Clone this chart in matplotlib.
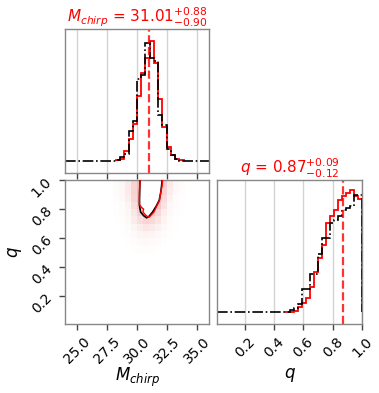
import numpy as np
import matplotlib
matplotlib.use("Agg")
import matplotlib.pyplot as plt
from matplotlib.colors import LinearSegmentedColormap

# --- 1D histogram of chirp mass (34 bins over 24..36) ---
mc_range = (24.0, 36.0)
mc_black = [0, 0, 0, 0, 0, 0, 0, 0, 0, 0, 0, 0,
            0.01, 0.03, 0.06, 0.25, 0.33, 0.68, 0.72, 0.98, 0.86, 0.83,
            0.38, 0.30, 0.10, 0.05, 0.02, 0.0,
            0, 0, 0, 0, 0, 0]
# red one only covers its own samples (bins 12..28 of the same grid)
mc_red_range = (28.235, 33.882)
mc_red = [0.01, 0.02, 0.08, 0.18, 0.31, 0.54, 0.73, 0.86, 1.0, 0.82,
          0.52, 0.28, 0.12, 0.05, 0.02, 0.01]
mc_median, mc_up, mc_lo = 31.01, 0.88, 0.90

# --- 1D histogram of mass ratio (36 bins over 0.01..1.0) ---
q_range = (0.01, 1.0)
q_black = [0] * 18 + [0.02, 0.03, 0.07, 0.19, 0.19, 0.32, 0.32, 0.48, 0.62,
                      0.62, 0.74, 0.77, 0.80, 0.85, 0.87, 0.88, 0.975, 0.975]
q_red_range = (0.4775, 1.0)
q_red = [0.0, 0.0, 0.01, 0.04, 0.075, 0.12, 0.21, 0.33, 0.45, 0.56,
         0.74, 0.80, 0.85, 0.93, 0.97, 0.99, 1.02, 0.97, 0.94]
q_median, q_up, q_lo = 0.87, 0.09, 0.12

# --- 2D density (cells 0.5 x 0.05) ---
dens_mc_edges = [28.0, 28.5, 29.0, 29.5, 30.0, 30.5, 31.0, 31.5, 32.0, 32.5, 33.0, 33.5, 34.0]
dens_q_edges = [0.5, 0.55, 0.6, 0.65, 0.7, 0.75, 0.8, 0.85, 0.9, 0.95, 1.0]
dens = [
    [0.0, 0.0, 0.0, 0.02, 0.03, 0.03, 0.03, 0.02, 0.0, 0.0, 0.0, 0.0],
    [0.0, 0.0, 0.02, 0.04, 0.06, 0.07, 0.06, 0.04, 0.02, 0.0, 0.0, 0.0],
    [0.0, 0.01, 0.03, 0.07, 0.12, 0.15, 0.12, 0.08, 0.04, 0.01, 0.0, 0.0],
    [0.0, 0.02, 0.05, 0.12, 0.22, 0.32, 0.27, 0.17, 0.08, 0.03, 0.01, 0.0],
    [0.01, 0.03, 0.07, 0.22, 0.42, 0.52, 0.47, 0.32, 0.14, 0.05, 0.02, 0.0],
    [0.02, 0.04, 0.10, 0.30, 0.60, 0.80, 0.70, 0.50, 0.20, 0.07, 0.03, 0.01],
    [0.02, 0.05, 0.15, 0.40, 0.75, 0.95, 0.90, 0.70, 0.35, 0.10, 0.04, 0.02],
    [0.03, 0.08, 0.20, 0.50, 0.85, 1.0, 1.0, 0.85, 0.45, 0.15, 0.05, 0.02],
    [0.05, 0.10, 0.25, 0.55, 0.90, 1.0, 1.0, 0.90, 0.55, 0.20, 0.08, 0.03],
    [0.05, 0.10, 0.25, 0.55, 0.90, 1.0, 1.0, 0.90, 0.60, 0.25, 0.10, 0.05],
]

# lowest credible contour (open at q = 1)
red_contour_mc = [30.25, 30.22, 30.19, 30.22, 30.39, 30.55, 30.50, 30.70, 30.85,
                  31.03, 31.25, 31.42, 31.64, 31.86, 31.97, 32.08, 32.14]
red_contour_q = [1.0, 0.935, 0.87, 0.83, 0.81, 0.80, 0.78, 0.76, 0.75,
                 0.745, 0.765, 0.78, 0.82, 0.855, 0.91, 0.957, 1.0]
black_contour_mc = [30.25, 30.22, 30.20, 30.30, 30.55, 30.80, 31.00, 31.30,
                    31.60, 31.85, 31.97, 32.05, 32.10]
black_contour_q = [1.0, 0.92, 0.83, 0.78, 0.755, 0.74, 0.75, 0.78, 0.82,
                   0.86, 0.91, 0.96, 1.0]

mc_ticks = [25.0, 27.5, 30.0, 32.5, 35.0]
q_ticks = [0.2, 0.4, 0.6, 0.8, 1.0]

SPINE = "#888888"
GRID = "#d3d3d3"


def style(ax):
    for s in ax.spines.values():
        s.set_color(SPINE)
        s.set_linewidth(1.0)
    ax.tick_params(direction="out", length=4, width=1, color="#444444", labelsize=10)


W, H = 379, 393
fig = plt.figure(figsize=(W / 100, H / 100), dpi=100)
ax_mc = fig.add_axes([65 / W, 1 - 173 / H, 144 / W, 144 / H])
ax_2d = fig.add_axes([65 / W, 1 - 324 / H, 144 / W, 144 / H])
ax_q = fig.add_axes([217 / W, 1 - 324 / H, 145 / W, 144 / H])

# chirp mass histogram
mc_edges = np.linspace(*mc_range, len(mc_black) + 1)
mc_red_edges = np.linspace(*mc_red_range, len(mc_red) + 1)
ax_mc.stairs(mc_red, mc_red_edges, color="red", lw=1.3)
ax_mc.stairs(mc_black, mc_edges, color="black", lw=1.2, ls="-.")
ax_mc.axvline(mc_median, color="red", ls="--", lw=1.6, alpha=0.8)
ax_mc.set_xlim(*mc_range)
ax_mc.set_ylim(-0.1, 1.1)
ax_mc.set_xticks(mc_ticks)
ax_mc.set_xticklabels([])
ax_mc.set_yticks([])
ax_mc.grid(axis="x", color=GRID, lw=1)
ax_mc.set_axisbelow(True)
ax_mc.set_title(r"$M_{chirp}$ = $%.2f^{+%.2f}_{-%.2f}$" % (mc_median, mc_up, mc_lo),
                color="red", fontsize=11, pad=4)
style(ax_mc)

# mass ratio histogram
q_edges = np.linspace(*q_range, len(q_black) + 1)
q_red_edges = np.linspace(*q_red_range, len(q_red) + 1)
ax_q.stairs(q_red, q_red_edges, color="red", lw=1.3)
ax_q.stairs(q_black, q_edges, color="black", lw=1.2, ls="-.")
ax_q.axvline(q_median, color="red", ls="--", lw=1.6, alpha=0.8)
ax_q.set_xlim(*q_range)
ax_q.set_ylim(-0.1, 1.1)
ax_q.set_xticks(q_ticks)
ax_q.set_xticklabels(["%.1f" % t for t in q_ticks], rotation=45)
ax_q.set_yticks([])
ax_q.grid(axis="x", color=GRID, lw=1)
ax_q.set_axisbelow(True)
ax_q.set_xlabel("$q$", fontsize=12)
ax_q.xaxis.set_label_coords(0.5, -0.29)
ax_q.set_title(r"$q$ = $%.2f^{+%.2f}_{-%.2f}$" % (q_median, q_up, q_lo),
               color="red", fontsize=11, pad=4)
style(ax_q)

# 2D panel
pink = LinearSegmentedColormap.from_list("pink", ["white", "#f08c8c"])
ax_2d.pcolormesh(dens_mc_edges, dens_q_edges, np.array(dens), cmap=pink,
                 vmin=0, vmax=1, alpha=0.7, shading="flat")
ax_2d.fill(red_contour_mc, red_contour_q, color="white", zorder=2)
ax_2d.plot(black_contour_mc, black_contour_q, color="black", lw=1.2, zorder=3)
ax_2d.plot(red_contour_mc, red_contour_q, color="red", lw=1.0, zorder=4)
ax_2d.set_xlim(*mc_range)
ax_2d.set_ylim(*q_range)
ax_2d.set_xticks(mc_ticks)
ax_2d.set_xticklabels(["%.1f" % t for t in mc_ticks], rotation=45)
ax_2d.set_yticks(q_ticks)
ax_2d.set_yticklabels(["%.1f" % t for t in q_ticks], rotation=45)
ax_2d.set_xlabel("$M_{chirp}$", fontsize=12)
ax_2d.xaxis.set_label_coords(0.5, -0.29)
ax_2d.set_ylabel("$q$", fontsize=12)
style(ax_2d)

fig.savefig("out.png", dpi=100)
